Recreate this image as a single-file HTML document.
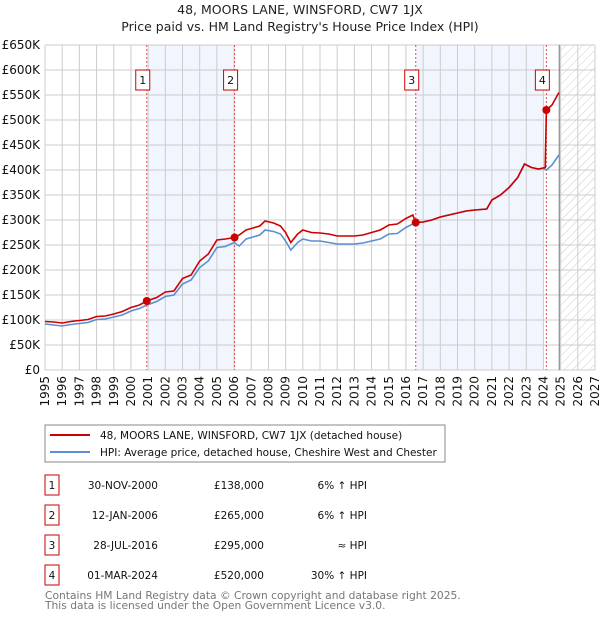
<!DOCTYPE html>
<html><head><meta charset="utf-8"><style>
body{margin:0;background:#fff}
svg{display:block;font-family:"DejaVu Sans","Liberation Sans",sans-serif}
</style></head><body>
<svg id="c" width="600" height="620" viewBox="0 0 600 620">
<defs><pattern id="hatch" width="6" height="6" patternUnits="userSpaceOnUse" patternTransform="rotate(45)"><line x1="0" y1="0" x2="0" y2="6" stroke="#ccc" stroke-width="1"/></pattern></defs>
<text x="300" y="14" text-anchor="middle" font-size="12.5" fill="#222">48, MOORS LANE, WINSFORD, CW7 1JX</text>
<text x="300" y="31" text-anchor="middle" font-size="12.5" fill="#222">Price paid vs. HM Land Registry's House Price Index (HPI)</text>
<g id="plot"></g>
<rect x="45" y="425" width="400" height="37" fill="#fff" stroke="#888"/>
<line x1="50" y1="435" x2="90" y2="435" stroke="#cc0000" stroke-width="2"/>
<text x="100" y="439" font-size="10.5" fill="#111">48, MOORS LANE, WINSFORD, CW7 1JX (detached house)</text>
<line x1="50" y1="452" x2="90" y2="452" stroke="#5b8fd4" stroke-width="2"/>
<text x="100" y="456" font-size="10.5" fill="#111">HPI: Average price, detached house, Cheshire West and Chester</text>
<g id="table" font-size="10.5" fill="#111"></g>
<text x="45" y="599" font-size="10.7" fill="#777">Contains HM Land Registry data © Crown copyright and database right 2025.</text>
<text x="45" y="609" font-size="10.7" fill="#777">This data is licensed under the Open Government Licence v3.0.</text>
</svg>
<script>
const yTicks=[0,50,100,150,200,250,300,350,400,450,500,550,600,650];
const yTickLabels=["£0","£50K","£100K","£150K","£200K","£250K","£300K","£350K","£400K","£450K","£500K","£550K","£600K","£650K"];
const years=[1995,1996,1997,1998,1999,2000,2001,2002,2003,2004,2005,2006,2007,2008,2009,2010,2011,2012,2013,2014,2015,2016,2017,2018,2019,2020,2021,2022,2023,2024,2025,2026,2027];
const hpiDates=[1995,1995.5,1996,1996.5,1997,1997.5,1998,1998.5,1999,1999.5,2000,2000.5,2000.92,2001.5,2002,2002.5,2003,2003.5,2004,2004.5,2005,2005.5,2006,2006.3,2006.7,2007,2007.5,2007.8,2008.3,2008.7,2009,2009.3,2009.7,2010,2010.5,2011,2011.5,2012,2012.5,2013,2013.5,2014,2014.5,2015,2015.5,2016,2016.57,2017,2017.5,2018,2018.5,2019,2019.5,2020,2020.7,2021,2021.5,2022,2022.5,2022.9,2023.3,2023.7,2024,2024.17,2024.5,2024.9];
const hpiValues=[92,90,88,91,93,95,101,102,106,110,118,123,130,137,147,150,172,180,205,218,245,247,255,248,262,265,270,280,277,272,258,240,255,262,258,258,255,252,252,252,254,258,262,272,273,285,295,296,300,306,310,314,318,320,322,340,350,365,385,412,405,402,403,400,410,430];
const redDates=[1995,1995.5,1996,1996.5,1997,1997.5,1998,1998.5,1999,1999.5,2000,2000.5,2000.92,2001.5,2002,2002.5,2003,2003.5,2004,2004.5,2005,2005.5,2006.03,2006.3,2006.7,2007,2007.5,2007.8,2008.3,2008.7,2009,2009.3,2009.7,2010,2010.5,2011,2011.5,2012,2012.5,2013,2013.5,2014,2014.5,2015,2015.5,2016,2016.4,2016.57,2017,2017.5,2018,2018.5,2019,2019.5,2020,2020.7,2021,2021.5,2022,2022.5,2022.9,2023.3,2023.7,2024.1,2024.17,2024.5,2024.9];
const redValues=[97,96,94,97,99,101,107,108,112,117,125,130,138,145,156,158,183,190,218,232,260,262,265,270,280,283,288,298,294,288,275,255,272,280,275,274,272,268,268,268,270,275,280,290,292,303,310,295,296,300,306,310,314,318,320,322,340,350,365,385,412,405,402,405,520,530,555];
const saleDates=[2000.92,2006.03,2016.57,2024.17];
const saleValues=[138,265,295,520];
const saleLabels=["1","2","3","4"];
const saleDateText=["30-NOV-2000","12-JAN-2006","28-JUL-2016","01-MAR-2024"];
const salePriceText=["£138,000","£265,000","£295,000","£520,000"];
const saleHpiText=["6% ↑ HPI","6% ↑ HPI","≈ HPI","30% ↑ HPI"];
const X0=45,X1=595,Y0=370,Y1=45;
const xs=y=>X0+(y-1995)*(X1-X0)/32;
const ys=v=>Y0-(v/650)*(Y0-Y1);
const NS="http://www.w3.org/2000/svg";
const plot=document.getElementById('plot');
function mk(tag,attrs,parent){const e=document.createElementNS(NS,tag);for(const k in attrs)e.setAttribute(k,attrs[k]);(parent||plot).appendChild(e);return e;}
let s=mk('rect',{x:xs(2001),y:Y1,width:xs(saleDates[1])-xs(2001),height:Y0-Y1,fill:'#eef3fc',opacity:0.8});


s=mk('rect',{x:xs(saleDates[2]),y:Y1,width:xs(2024)-xs(saleDates[2]),height:Y0-Y1,fill:'#eef3fc',opacity:0.8});


s=mk('rect',{x:xs(2024.92),y:Y1,width:X1-xs(2024.92),height:Y0-Y1,fill:'url(#hatch)'});


years.forEach((y,i)=>{
 const l=mk('line',{x1:xs(y),x2:xs(y),y1:Y1,y2:Y0,stroke:'#ccc','stroke-width':1});
 
 
 const t=mk('text',{x:0,y:0,'font-size':12,fill:'#111','text-anchor':'end',transform:`translate(${xs(y)+4},376) rotate(-90)`});
 
 
 t.textContent=y;
});
yTicks.forEach((v,i)=>{
 const l=mk('line',{x1:X0,x2:X1,y1:ys(v),y2:ys(v),stroke:'#ccc','stroke-width':1});
 
 
 const t=mk('text',{x:40,y:ys(v)+4,'font-size':12,fill:'#111','text-anchor':'end'});
 
 
 t.textContent=yTickLabels[i];
});
let nl=mk('line',{x1:xs(2024.92),x2:xs(2024.92),y1:Y1,y2:Y0,stroke:'#777','stroke-width':1});


saleDates.forEach((d,i)=>{
 const l=mk('line',{x1:xs(d),x2:xs(d),y1:Y1,y2:Y0,stroke:'#e05050','stroke-width':1,'stroke-dasharray':'2,2'});
 
 
 const b=mk('rect',{x:xs(d)-11,y:70,width:14,height:20,fill:'#fff',stroke:'#cc0000','stroke-width':1});
 
 
 const t=mk('text',{x:xs(d)-4,y:84,'font-size':11,fill:'#111','text-anchor':'middle'});
 
 
 t.textContent=saleLabels[i];
});
const path=(dates,vals)=>dates.map((d,i)=>(i?'L':'M')+xs(d).toFixed(1)+','+ys(vals[i]).toFixed(1)).join('');
let hp=mk('path',{d:path(hpiDates,hpiValues),fill:'none',stroke:'#5b8fd4','stroke-width':1.6});


let rp=mk('path',{d:path(redDates,redValues),fill:'none',stroke:'#cc0000','stroke-width':1.6});


saleDates.forEach((d,i)=>{
 const c=mk('circle',{cx:xs(d),cy:ys(saleValues[i]),r:4,fill:'#cc0000'});
 
 
});
const tb=document.getElementById('table');
saleLabels.forEach((lab,i)=>{
 const cy=485+i*30;
 const b=mk('rect',{x:45,y:cy-10,width:14,height:20,fill:'#fff',stroke:'#cc0000'},tb);
 
 
 const t0=mk('text',{x:52,y:cy+4,'text-anchor':'middle'},tb);
 
 
 t0.textContent=lab;
 const t1=mk('text',{x:158,y:cy+4,'text-anchor':'end'},tb);
 
 
 t1.textContent=saleDateText[i];
 const t2=mk('text',{x:264,y:cy+4,'text-anchor':'end'},tb);
 
 
 t2.textContent=salePriceText[i];
 const t3=mk('text',{x:367,y:cy+4,'text-anchor':'end'},tb);
 
 
 t3.textContent=saleHpiText[i];
});
</script>
</body></html>
